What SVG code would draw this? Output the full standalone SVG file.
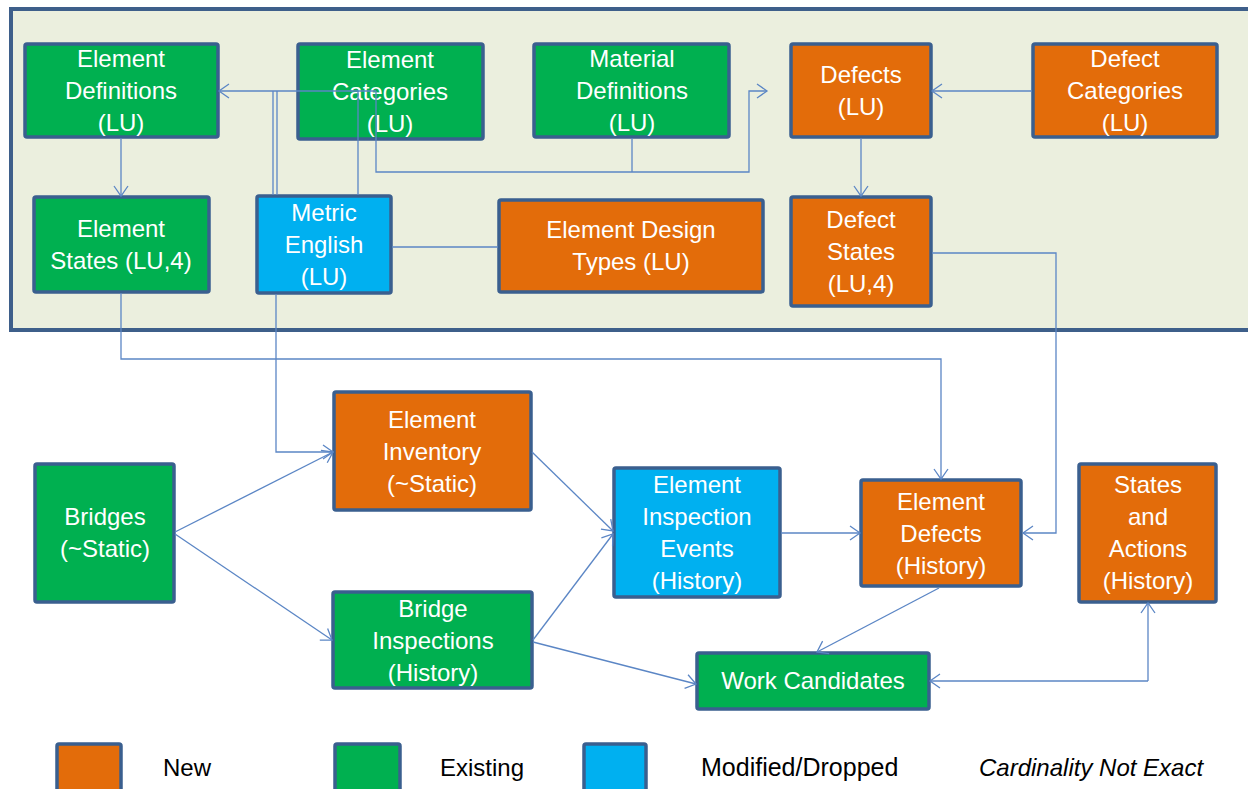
<svg xmlns="http://www.w3.org/2000/svg" width="1248" height="789" viewBox="0 0 1248 789">
<defs>
<marker id="arr" markerUnits="userSpaceOnUse" markerWidth="16" markerHeight="16" refX="12" refY="8" orient="auto">
<path d="M2,1 L12,8 L2,15" fill="none" stroke="#5b86c5" stroke-width="1.3"/>
</marker>
<style>
.box{stroke:#3a5f8f;stroke-width:3.5}
.g{fill:#00b050}
.o{fill:#e36c0a}
.b{fill:#00b0f0}
.t{font-family:"Liberation Sans",Arial,sans-serif;font-size:24px;fill:#ffffff;text-anchor:middle}
.lg{font-family:"Liberation Sans",Arial,sans-serif;font-size:24px;fill:#000000}
.c{fill:none;stroke:#5b86c5;stroke-width:1.3}
.a{marker-end:url(#arr)}
</style>
</defs>
<rect width="1248" height="789" fill="#ffffff"/>
<rect id="panel" x="11" y="9" width="1250" height="321" fill="#ebefde" stroke="#3e5f8a" stroke-width="4"/>

<g id="nodes">
<g id="element-definitions"><rect class="box g" x="25" y="44" width="193" height="93" rx="2"/><text class="t" x="121" y="67">Element</text><text class="t" x="121" y="99">Definitions</text><text class="t" x="121" y="131">(LU)</text></g>
<g id="element-categories"><rect class="box g" x="298" y="44" width="185" height="95" rx="2"/><text class="t" x="390" y="68">Element</text><text class="t" x="390" y="100">Categories</text><text class="t" x="390" y="132">(LU)</text></g>
<g id="material-definitions"><rect class="box g" x="534" y="44" width="195" height="93" rx="2"/><text class="t" x="632" y="67">Material</text><text class="t" x="632" y="99">Definitions</text><text class="t" x="632" y="131">(LU)</text></g>
<g id="defects"><rect class="box o" x="791" y="44" width="140" height="93" rx="2"/><text class="t" x="861" y="83">Defects</text><text class="t" x="861" y="115">(LU)</text></g>
<g id="defect-categories"><rect class="box o" x="1033" y="44" width="184" height="93" rx="2"/><text class="t" x="1125" y="67">Defect</text><text class="t" x="1125" y="99">Categories</text><text class="t" x="1125" y="131">(LU)</text></g>
<g id="element-states"><rect class="box g" x="34" y="197" width="175" height="95" rx="2"/><text class="t" x="121" y="237">Element</text><text class="t" x="121" y="269">States (LU,4)</text></g>
<g id="metric-english"><rect class="box b" x="257" y="196" width="134" height="97" rx="2"/><text class="t" x="324" y="221">Metric</text><text class="t" x="324" y="253">English</text><text class="t" x="324" y="285">(LU)</text></g>
<g id="element-design-types"><rect class="box o" x="499" y="200" width="264" height="92" rx="2"/><text class="t" x="631" y="238">Element Design</text><text class="t" x="631" y="270">Types (LU)</text></g>
<g id="defect-states"><rect class="box o" x="791" y="197" width="140" height="109" rx="2"/><text class="t" x="861" y="228">Defect</text><text class="t" x="861" y="260">States</text><text class="t" x="861" y="292">(LU,4)</text></g>
<g id="bridges"><rect class="box g" x="35" y="464" width="139" height="138" rx="2"/><text class="t" x="105" y="525">Bridges</text><text class="t" x="105" y="557">(~Static)</text></g>
<g id="element-inventory"><rect class="box o" x="334" y="392" width="197" height="118" rx="2"/><text class="t" x="432" y="428">Element</text><text class="t" x="432" y="460">Inventory</text><text class="t" x="432" y="492">(~Static)</text></g>
<g id="bridge-inspections"><rect class="box g" x="333" y="592" width="199" height="96" rx="2"/><text class="t" x="433" y="617">Bridge</text><text class="t" x="433" y="649">Inspections</text><text class="t" x="433" y="681">(History)</text></g>
<g id="element-inspection-events"><rect class="box b" x="614" y="468" width="166" height="129" rx="2"/><text class="t" x="697" y="493">Element</text><text class="t" x="697" y="525">Inspection</text><text class="t" x="697" y="557">Events</text><text class="t" x="697" y="589">(History)</text></g>
<g id="element-defects"><rect class="box o" x="861" y="480" width="160" height="106" rx="2"/><text class="t" x="941" y="510">Element</text><text class="t" x="941" y="542">Defects</text><text class="t" x="941" y="574">(History)</text></g>
<g id="states-and-actions"><rect class="box o" x="1079" y="464" width="137" height="138" rx="2"/><text class="t" x="1148" y="493">States</text><text class="t" x="1148" y="525">and</text><text class="t" x="1148" y="557">Actions</text><text class="t" x="1148" y="589">(History)</text></g>
<g id="work-candidates"><rect class="box g" x="697" y="653" width="232" height="56" rx="2"/><text class="t" x="813" y="689">Work Candidates</text></g>
</g>

<g id="connectors">
<path class="c a" d="M376,91 L219,91"/>
<path class="c" d="M273,91 L273,195 M277,91 L277,195 M358,91 L358,195"/>
<path class="c a" d="M376,91 L376,172 L749,172 L749,91 L767,91"/>
<path class="c" d="M632,138 L632,172"/>
<path class="c a" d="M121,138 L121,196"/>
<path class="c" d="M392,247 L498,247"/>
<path class="c a" d="M861,138 L861,196"/>
<path class="c a" d="M1032,91 L932,91"/>
<path class="c a" d="M932,253 L1056,253 L1056,533 L1023,533"/>
<path class="c a" d="M121,293 L121,359 L941,359 L941,479"/>
<path class="c a" d="M276,294 L276,452 L333,452"/>
<path class="c a" d="M175,532 L333,452"/>
<path class="c a" d="M175,534 L332,640"/>
<path class="c a" d="M532,452 L613,531"/>
<path class="c a" d="M533,640 L613,534"/>
<path class="c a" d="M533,642 L696,684"/>
<path class="c a" d="M781,533 L860,533"/>
<path class="c a" d="M939,588 L817,652"/>
<path class="c a" d="M1148,681 L930,681"/>
<path class="c a" d="M1148,681 L1148,603"/>
</g>

<g id="legend">
<rect class="box o" x="57" y="744" width="64" height="60" rx="2"/>
<text class="lg" x="163" y="776">New</text>
<rect class="box g" x="335" y="744" width="65" height="60" rx="2"/>
<text class="lg" x="440" y="776">Existing</text>
<rect class="box b" x="584" y="744" width="62" height="60" rx="2"/>
<text class="lg" x="701" y="776" style="font-size:25px">Modified/Dropped</text>
<text class="lg" x="979" y="776" style="font-style:italic">Cardinality Not Exact</text>
</g>
</svg>
